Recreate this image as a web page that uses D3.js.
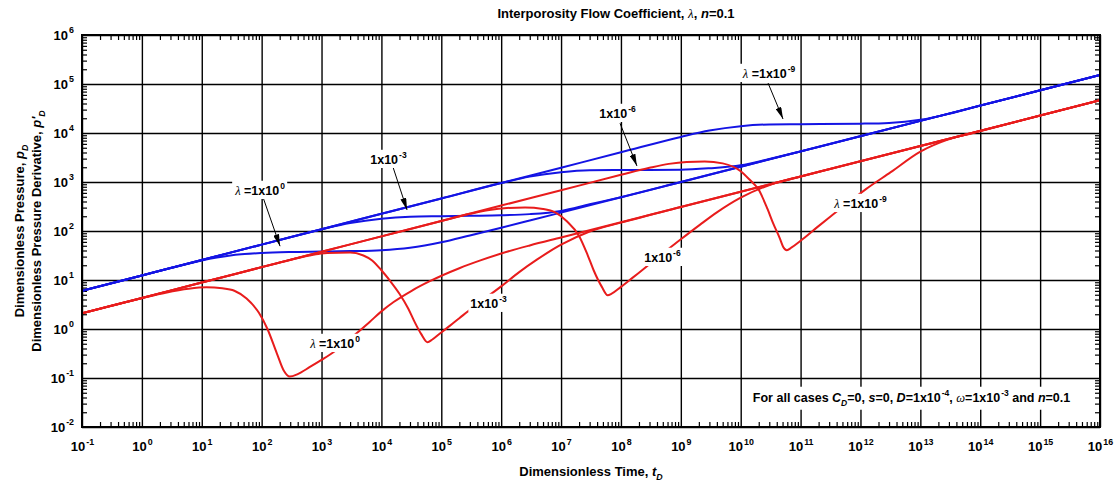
<!DOCTYPE html>
<html>
<head>
<meta charset="utf-8">
<title>Interporosity Flow Coefficient</title>
<script src="https://cdn.jsdelivr.net/npm/d3@7/dist/d3.min.js"></script>
<style>
  body { margin: 0; background: #fff; }
  svg text { font-family: "Liberation Sans", Arial, sans-serif; font-weight: bold; fill: #000; }
</style>
</head>
<body>
<svg id="chart" width="1116" height="483"></svg>
<script>
'use strict';

// decade exponents used for the tick labels (10^n)
var xExponents = [-1, 0, 1, 2, 3, 4, 5, 6, 7, 8, 9, 10, 11, 12, 13, 14, 15, 16];
var yExponents = [-2, -1, 0, 1, 2, 3, 4, 5, 6];
var minorSteps = [2, 3, 4, 5, 6, 7, 8, 9];

// dimensionless pressure pD, [tD, pD]
var pdLambda0 = [[0.1, 6.0], [1, 12.4], [3, 17.5], [10, 25.1], [30, 31.6], [100, 35.5], [300, 37.2],
	[1e3, 38.0], [3e3, 38.9], [1e4, 40.7], [3e4, 45.7], [1e5, 58.9], [3e5, 81.3], [1e6, 117],
	[3e6, 164], [1e7, 238], [1e10, 2051], [1e13, 17700], [1e16, 152800]];
var pdLambda3 = [[0.1, 6.0], [1, 12.4], [10, 25.6], [100, 52.7], [1e3, 108], [3e3, 145], [1e4, 178],
	[3e4, 195], [1e5, 200], [3e5, 204], [1e6, 209], [3e6, 221], [1e7, 257], [3e7, 351], [1e8, 490],
	[1e9, 1000], [1e10, 2051], [1e13, 17700], [1e16, 152800]];
var pdLambda6 = [[0.1, 6.0], [1, 12.4], [10, 25.6], [100, 52.7], [1e3, 109], [1e4, 224], [1e5, 461],
	[1e6, 951], [3e6, 1288], [1e7, 1585], [3e7, 1738], [1e8, 1758], [1e9, 1778], [3e9, 1905],
	[1e10, 2188], [3e10, 2951], [1e11, 4207], [1e13, 17700], [1e16, 152800]];
var pdLambda9 = [[0.1, 6.0], [1, 12.4], [10, 25.6], [100, 52.7], [1e3, 109], [1e4, 224], [1e5, 461],
	[1e6, 951], [1e7, 1959], [1e8, 4036], [1e9, 8318], [3e9, 11220], [1e10, 13800], [3e10, 14960],
	[1e11, 15140], [1e12, 15490], [3e12, 16030], [1e13, 18620], [3e13, 24550], [1e14, 36300],
	[1e16, 152800]];

// pressure derivative p'D, [tD, p'D]
var derLambda0 = [[0.1, 2.09], [1, 4.25], [2.5, 5.50], [6, 6.61], [12, 7.08], [22, 6.76], [35, 6.03],
	[56, 4.17], [90, 2.14], [125, 1.0], [180, 0.316], [235, 0.141], [295, 0.107], [400, 0.120],
	[630, 0.166], [1e3, 0.234], [1.6e3, 0.339], [3.2e3, 0.676], [6.3e3, 1.38], [1e4, 2.29],
	[1.6e4, 3.55], [3.2e4, 6.03], [6.3e4, 9.33], [2e5, 17.4], [4.5e5, 25.1], [1e6, 34.7], [3e6, 50.7],
	[1e7, 73.8], [1e10, 632], [1e13, 5420], [1e16, 46450]];
var derLambda3 = [[0.1, 2.09], [1, 4.31], [10, 8.87], [100, 18.3], [300, 25.7], [630, 31.6],
	[1.25e3, 35.5], [3e3, 36.3], [5e3, 31.6], [7e3, 25.1], [1e4, 15.8], [1.4e4, 9.55], [2e4, 5.25],
	[2.8e4, 2.63], [3.6e4, 1.38], [4.6e4, 0.794], [5.9e4, 0.537], [7e4, 0.603], [1e5, 0.851],
	[1.4e5, 1.17], [2e5, 1.66], [3.2e5, 2.63], [1e6, 7.41], [2e6, 14.5], [4e6, 26.3], [1e7, 52.5],
	[3e7, 97.7], [1e8, 148], [1e9, 309], [1e10, 632], [1e13, 5420], [1e16, 46450]];
var derLambda6 = [[0.1, 2.09], [1, 4.31], [10, 8.87], [100, 18.3], [1e3, 37.7], [1e4, 77.6], [1e5, 160],
	[3e5, 224], [6.3e5, 269], [1.25e6, 295], [2.5e6, 302], [5e6, 282], [8e6, 240], [1.25e7, 158],
	[2e7, 79.4], [2.8e7, 31.6], [3.5e7, 15.8], [4.8e7, 7.24], [6e7, 4.90], [7e7, 5.25], [1e8, 7.24],
	[1.4e8, 10.0], [2e8, 14.1], [3.2e8, 22.4], [1e9, 67.6], [2.1e9, 135], [4e9, 240], [1e10, 479],
	[3.2e10, 891], [1e11, 1300], [3.2e11, 1862], [1e12, 2649], [1e13, 5420], [1e16, 46450]];
var derLambda9 = [[0.1, 2.09], [1, 4.31], [10, 8.87], [100, 18.3], [1e3, 37.7], [1e4, 77.6], [1e5, 160],
	[1e6, 330], [1e7, 679], [1e8, 1400], [3e8, 1950], [6.3e8, 2344], [1.25e9, 2570], [2.5e9, 2630],
	[5e9, 2399], [1e10, 1660], [1.4e10, 1122], [2e10, 692], [2.8e10, 282], [3.5e10, 141],
	[4.5e10, 70.8], [5.1e10, 47.9], [5.9e10, 40.7], [7e10, 45.7], [1e11, 63.1], [1.9e11, 120],
	[3.2e11, 200], [6.3e11, 380], [1.25e12, 724], [3.2e12, 1585], [1e13, 4169], [2.8e13, 7244],
	[7.6e13, 10000], [3.2e14, 15850], [1e15, 22700], [1e16, 46450]];

// curve labels, placed in chart units [tD, value]
var pdLabels = [
	{lambda: true, exp: '0', at: [94, 543], from: [105, 494], to: [203, 49]},
	{lambda: false, exp: '-3', at: [1.31e4, 2328], from: [1.56e4, 2023], to: [2.68e4, 269]},
	{lambda: false, exp: '-6', at: [8.77e7, 20230], from: [9.66e7, 15780], to: [1.85e8, 2123]},
	{lambda: true, exp: '-9', at: [2.97e10, 1.324e5], from: [2.86e10, 1.047e5], to: [5.09e10, 1.93e4]}
];
var derLabels = [
	{lambda: true, exp: '0', at: [1680, 0.409]},
	{lambda: false, exp: '-3', at: [6.15e5, 2.69]},
	{lambda: false, exp: '-6', at: [4.94e8, 23.3]},
	{lambda: true, exp: '-9', at: [1e12, 294]}
];
var noteAt = [7.13e12, 0.0324];

var blue = '#1414e4', red = '#e81c1c';

var svg = d3.select('#chart');
var margin = {top: 35, right: 16, bottom: 56, left: 82};
var width = +svg.attr('width') - margin.left - margin.right;
var height = +svg.attr('height') - margin.top - margin.bottom;

var g = svg.append('g').attr('transform', 'translate(' + margin.left + ',' + margin.top + ')');

var x = d3.scaleLog().domain([1e-1, 1e16]).range([0, width]);
var y = d3.scaleLog().domain([1e-2, 1e6]).range([height, 0]);

var xMajor = xExponents.map(function(e) { return Math.pow(10, e); });
var yMajor = yExponents.map(function(e) { return Math.pow(10, e); });
function minorOf(exps) {
	var out = [];
	exps.slice(0, -1).forEach(function(e) {
		minorSteps.forEach(function(m) { out.push(m * Math.pow(10, e)); });
	});
	return out;
}
var xMinor = minorOf(xExponents), yMinor = minorOf(yExponents);

// text with italic / sub / superscript parts
function addRich(sel, parts, size) {
	var shift = 0;
	parts.forEach(function(pt) {
		var target = pt.sup ? -size * 0.5 : (pt.sub ? size * 0.3 : 0);
		var ts = sel.append('tspan').text(pt.s);
		if (target !== shift) ts.attr('dy', target - shift);
		shift = target;
		if (pt.sup || pt.sub) ts.attr('font-size', size * 0.68);
		if (pt.sup) ts.attr('dx', 1);
		if (pt.it) ts.attr('font-style', 'italic');
		if (pt.serif) ts.attr('font-family', '"Liberation Serif", serif').attr('font-weight', 'normal');
	});
}
function whiteBox(textSel, pad) {
	var b = textSel.node().getBBox();
	d3.select(textSel.node().parentNode).insert('rect', function() { return textSel.node(); })
		.attr('x', b.x - pad).attr('y', b.y - pad + 2)
		.attr('width', b.width + 2 * pad).attr('height', b.height + 2 * pad - 3)
		.attr('fill', '#fff');
}

// grid
var gx = g.append('g').attr('transform', 'translate(0,' + height + ')')
	.call(d3.axisBottom(x).tickValues(xMajor).tickSize(-height).tickFormat(''));
var gy = g.append('g')
	.call(d3.axisLeft(y).tickValues(yMajor).tickSize(-width).tickFormat(''));
[gx, gy].forEach(function(a) {
	a.select('.domain').remove();
	a.selectAll('line').attr('stroke', '#000').attr('stroke-width', 1.4);
});

// minor ticks, inward on all four sides
var minors = [
	g.append('g').attr('transform', 'translate(0,' + height + ')').call(d3.axisBottom(x).tickValues(xMinor).tickSize(-5).tickFormat('')),
	g.append('g').call(d3.axisTop(x).tickValues(xMinor).tickSize(-5).tickFormat('')),
	g.append('g').call(d3.axisLeft(y).tickValues(yMinor).tickSize(-5).tickFormat('')),
	g.append('g').attr('transform', 'translate(' + width + ',0)').call(d3.axisRight(y).tickValues(yMinor).tickSize(-5).tickFormat(''))
];
minors.forEach(function(a) {
	a.select('.domain').remove();
	a.selectAll('line').attr('stroke', '#000').attr('stroke-width', 1.2);
});

// tick labels
var xLab = g.append('g').attr('transform', 'translate(0,' + height + ')')
	.call(d3.axisBottom(x).tickValues(xMajor).tickSize(0).tickPadding(15).tickFormat(''));
xLab.attr('font-size', 13).select('.domain').remove();
xLab.selectAll('.tick text').each(function(d, i) {
	addRich(d3.select(this), [{s: '10'}, {s: String(xExponents[i]), sup: true}], 13);
});
var yLab = g.append('g')
	.call(d3.axisLeft(y).tickValues(yMajor).tickSize(0).tickPadding(8).tickFormat(''));
yLab.attr('font-size', 13).select('.domain').remove();
yLab.selectAll('.tick text').each(function(d, i) {
	addRich(d3.select(this), [{s: '10'}, {s: String(yExponents[i]), sup: true}], 13);
});

// curves
svg.append('defs').append('clipPath').attr('id', 'plotClip')
	.append('rect').attr('width', width).attr('height', height);
var line = d3.line()
	.x(function(d) { return x(d[0]); })
	.y(function(d) { return y(d[1]); })
	.curve(d3.curveMonotoneX);
var curves = g.append('g').attr('clip-path', 'url(#plotClip)');
[pdLambda0, pdLambda3, pdLambda6, pdLambda9].forEach(function(s) {
	curves.append('path').datum(s).attr('d', line)
		.attr('fill', 'none').attr('stroke', blue).attr('stroke-width', 2);
});
[derLambda0, derLambda3, derLambda6, derLambda9].forEach(function(s) {
	curves.append('path').datum(s).attr('d', line)
		.attr('fill', 'none').attr('stroke', red).attr('stroke-width', 2);
});

// frame
g.append('rect').attr('width', width).attr('height', height)
	.attr('fill', 'none').attr('stroke', '#000').attr('stroke-width', 2);

// arrowhead
svg.select('defs').append('marker').attr('id', 'arrow')
	.attr('viewBox', '0 0 12 6').attr('refX', 12).attr('refY', 3)
	.attr('markerWidth', 12).attr('markerHeight', 6)
	.attr('markerUnits', 'userSpaceOnUse').attr('orient', 'auto')
	.append('path').attr('d', 'M0,0L12,3L0,6Z').attr('fill', '#000');

function labelParts(l) {
	var parts = [];
	if (l.lambda) parts.push({s: 'λ', it: true, serif: true}, {s: ' '});
	parts.push({s: '=1x10'.slice(l.lambda ? 0 : 1)}, {s: l.exp, sup: true});
	return parts;
}
var ann = g.append('g').attr('font-size', 12.5);
pdLabels.forEach(function(l) {
	ann.append('line')
		.attr('x1', x(l.from[0])).attr('y1', y(l.from[1]))
		.attr('x2', x(l.to[0])).attr('y2', y(l.to[1]))
		.attr('stroke', '#000').attr('stroke-width', 1)
		.attr('marker-end', 'url(#arrow)');
	var t = ann.append('text').attr('x', x(l.at[0])).attr('y', y(l.at[1])).attr('text-anchor', 'middle');
	addRich(t, labelParts(l), 12.5);
	whiteBox(t, 2);
});
derLabels.forEach(function(l) {
	var t = ann.append('text').attr('x', x(l.at[0])).attr('y', y(l.at[1])).attr('text-anchor', 'middle');
	addRich(t, labelParts(l), 12.5);
	whiteBox(t, 2);
});

var note = ann.append('text').attr('x', x(noteAt[0])).attr('y', y(noteAt[1])).attr('text-anchor', 'middle');
addRich(note, [
	{s: 'For all cases '}, {s: 'C', it: true}, {s: 'D', it: true, sub: true}, {s: '=0, '},
	{s: 's', it: true}, {s: '=0, '}, {s: 'D', it: true}, {s: '=1x10'}, {s: '-4', sup: true},
	{s: ', '}, {s: 'ω', it: true, serif: true}, {s: '=1x10'}, {s: '-3', sup: true},
	{s: ' and '}, {s: 'n', it: true}, {s: '=0.1'}
], 12.5);
whiteBox(note, 3);

// titles
var title = svg.append('text').attr('x', 616).attr('y', 18).attr('text-anchor', 'middle').attr('font-size', 13);
addRich(title, [{s: 'Interporosity Flow Coefficient, '}, {s: 'λ', it: true, serif: true}, {s: ', '},
	{s: 'n', it: true}, {s: '=0.1'}], 13);

var xTitle = svg.append('text').attr('x', margin.left + width / 2).attr('y', 476)
	.attr('text-anchor', 'middle').attr('font-size', 13);
addRich(xTitle, [{s: 'Dimensionless Time, '}, {s: 't', it: true}, {s: 'D', it: true, sub: true}], 13);

var yTitle1 = svg.append('text').attr('transform', 'translate(24,' + (margin.top + height / 2) + ') rotate(-90)')
	.attr('text-anchor', 'middle').attr('font-size', 13);
addRich(yTitle1, [{s: 'Dimensionless Pressure, '}, {s: 'p', it: true}, {s: 'D', it: true, sub: true}], 13);
var yTitle2 = svg.append('text').attr('transform', 'translate(41,' + (margin.top + height / 2) + ') rotate(-90)')
	.attr('text-anchor', 'middle').attr('font-size', 13);
addRich(yTitle2, [{s: 'Dimensionless Pressure Derivative, '}, {s: 'p\'', it: true}, {s: 'D', it: true, sub: true}], 13);
</script>
</body>
</html>
